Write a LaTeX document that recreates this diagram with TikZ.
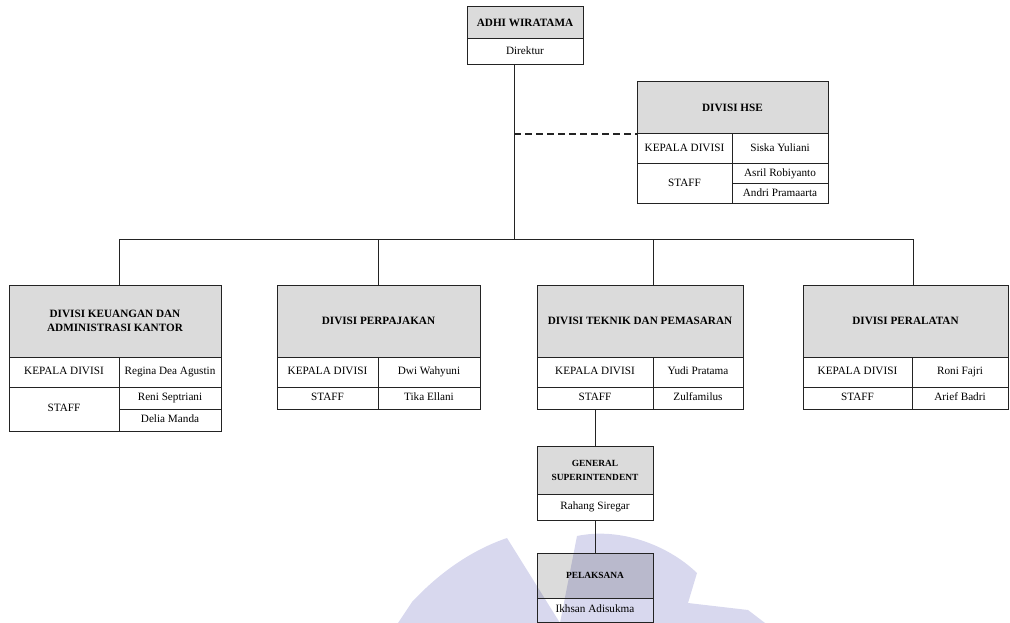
\documentclass[tikz,border=0pt]{standalone}
\usepackage{fontspec}
\setmainfont{Liberation Serif}
\definecolor{wmark}{RGB}{216,216,238}
\definecolor{linec}{RGB}{35,35,35}
\tikzset{
  cell/.style={draw=linec, line width=1pt, inner sep=0pt, outer sep=0pt,
    text height=7.6pt, text depth=2.4pt,
    font=\fontsize{11.2}{13}\selectfont},
  headcell/.style={fill=black, fill opacity=0.14, text opacity=1, align=center,
    text height=, text depth=, font=\bfseries\fontsize{11.2}{13.5}\selectfont},
  bighead/.style={headcell, font=\bfseries\fontsize{11.2}{13}\selectfont},
  smallhead/.style={headcell, font=\bfseries\fontsize{9.4}{14}\selectfont},
  bigtext/.style={font=\fontsize{11.2}{13}\selectfont},
  plain/.style={},
  conn/.style={draw=linec, line width=1pt},
  dashconn/.style={draw=linec, line width=1.6pt, dash pattern=on 7pt off 4pt}
}
\newcommand\orgcell[7]{\node[cell,#6,minimum width={(#4-#2)*1pt},minimum height={(#5-#3)*1pt}] (#1) at ({(#2+#4)/2},{(#3+#5)/2}) {#7};}
\begin{document}
\begin{tikzpicture}[x=1pt,y=-1pt]
\useasboundingbox (0,0) rectangle (1010,623);
% watermark
\fill[wmark] (398,623) -- (412,602) .. controls (440,572) and (472,550) .. (507,538) -- (560,623) -- cycle;
\fill[wmark] (560,623) -- (577,536) .. controls (620,527) and (668,545) .. (697,573) -- (688,603) -- (748,610) -- (765,623) -- cycle;
% top
\orgcell{adh}{467}{7}{583}{39}{bighead}{ADHI WIRATAMA}
\orgcell{dir}{467}{39}{583}{65}{bigtext}{Direktur}
% HSE
\orgcell{hseh}{637}{82}{828}{134}{bighead}{DIVISI HSE}
\orgcell{hsek}{637}{134}{732}{164}{bigtext}{KEPALA DIVISI}
\orgcell{hsekn}{732}{134}{828}{164}{bigtext}{Siska Yuliani}
\orgcell{hses}{637}{164}{732}{204}{bigtext}{STAFF}
\orgcell{hses1}{732}{164}{828}{184}{bigtext}{Asril Robiyanto}
\orgcell{hses2}{732}{184}{828}{204}{bigtext}{Andri Pramaarta}
% D1
\orgcell{d1h}{9}{285}{221}{357}{headcell}{DIVISI KEUANGAN DAN\\ADMINISTRASI KANTOR}
\orgcell{d1k}{9}{357}{119}{387}{plain}{KEPALA DIVISI}
\orgcell{d1kn}{119}{357}{221}{387}{plain}{Regina Dea Agustin}
\orgcell{d1s}{9}{387}{119}{431}{plain}{STAFF}
\orgcell{d1s1}{119}{387}{221}{409}{plain}{Reni Septriani}
\orgcell{d1s2}{119}{409}{221}{431}{plain}{Delia Manda}
% D2
\orgcell{d2h}{277}{285}{480}{357}{headcell}{DIVISI PERPAJAKAN}
\orgcell{d2k}{277}{357}{378}{387}{plain}{KEPALA DIVISI}
\orgcell{d2kn}{378}{357}{480}{387}{plain}{Dwi Wahyuni}
\orgcell{d2s}{277}{387}{378}{409}{plain}{STAFF}
\orgcell{d2sn}{378}{387}{480}{409}{plain}{Tika Ellani}
% D3
\orgcell{d3h}{537}{285}{743}{357}{headcell}{DIVISI TEKNIK DAN PEMASARAN}
\orgcell{d3k}{537}{357}{653}{387}{plain}{KEPALA DIVISI}
\orgcell{d3kn}{653}{357}{743}{387}{plain}{Yudi Pratama}
\orgcell{d3s}{537}{387}{653}{409}{plain}{STAFF}
\orgcell{d3sn}{653}{387}{743}{409}{plain}{Zulfamilus}
% D4
\orgcell{d4h}{803}{285}{1008}{357}{headcell}{DIVISI PERALATAN}
\orgcell{d4k}{803}{357}{912}{387}{plain}{KEPALA DIVISI}
\orgcell{d4kn}{912}{357}{1008}{387}{plain}{Roni Fajri}
\orgcell{d4s}{803}{387}{912}{409}{plain}{STAFF}
\orgcell{d4sn}{912}{387}{1008}{409}{plain}{Arief Badri}
% GS and Pelaksana
\orgcell{gsh}{537}{446}{653}{494}{smallhead}{GENERAL\\SUPERINTENDENT}
\orgcell{gsn}{537}{494}{653}{520}{bigtext}{Rahang Siregar}
\orgcell{plh}{537}{553}{653}{598}{smallhead}{PELAKSANA}
\orgcell{pln}{537}{598}{653}{622}{bigtext}{Ikhsan Adisukma}
% connectors
\coordinate (j) at (514,239);
\coordinate (busL) at (119,239);
\coordinate (busR) at (913,239);
\coordinate (b2) at (378,239);
\coordinate (b3) at (653,239);
\draw[conn] (dir.south -| j) -- (j);
\draw[dashconn] (hseh.south west -| j) -- (hseh.south west);
\draw[conn] (busL) -- (busR);
\draw[conn] (busL) -- (d1h.north -| busL);
\draw[conn] (b2) -- (d2h.north -| b2);
\draw[conn] (b3) -- (d3h.north -| b3);
\draw[conn] (busR) -- (d4h.north -| busR);
\draw[conn] (d3s.south) -- (gsh.north);
\draw[conn] (gsn.south) -- (plh.north);
\end{tikzpicture}
\end{document}
